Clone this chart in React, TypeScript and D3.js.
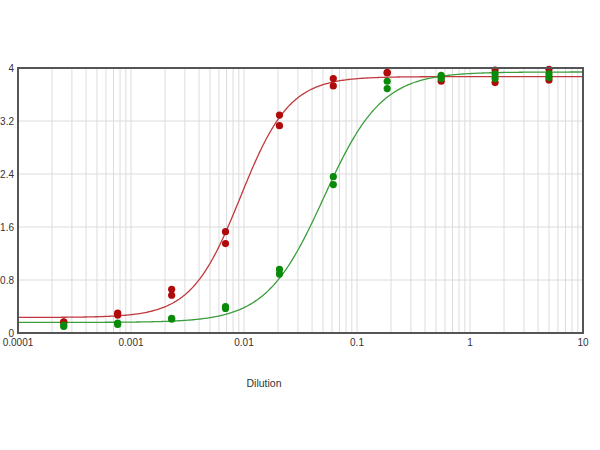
import React from "react";
import * as d3 from "d3";

const dilutions = [0.000254, 0.000762, 0.00229, 0.00686, 0.0206, 0.0617, 0.185, 0.556, 1.667, 5];
const redRep1 = [0.17, 0.30, 0.66, 1.53, 3.29, 3.84, 3.93, 3.87, 3.97, 3.98];
const redRep2 = [0.16, 0.27, 0.57, 1.35, 3.13, 3.73, 3.93, 3.80, 3.78, 3.82];
const greenRep1 = [0.12, 0.15, 0.22, 0.40, 0.96, 2.36, 3.80, 3.89, 3.91, 3.91];
const greenRep2 = [0.10, 0.13, 0.21, 0.37, 0.89, 2.24, 3.69, 3.84, 3.84, 3.86];
// 4PL fit parameters: [bottom, top, EC50, hill]
const redFit = [0.235, 3.87, 0.0093, 2.0];
const greenFit = [0.16, 3.94, 0.051, 1.7];
const yTicks = [0, 0.8, 1.6, 2.4, 3.2, 4];
const xTickLabels = ["0.0001", "0.001", "0.01", "0.1", "1", "10"];
const xLabel = "Dilution";

const W = 600, H = 450;
const L = 18, R = 583, T = 68, B = 333;

export default function App() {
  const x = d3.scaleLog().domain([0.0001, 10]).range([L, R]);
  const y = d3.scaleLinear().domain([0, 4]).range([B, T]);
  const minor: number[] = [];
  for (let e = -4; e < 1; e++) {
    for (let k = 1; k <= 9; k++) minor.push(k * Math.pow(10, e));
  }
  minor.push(10);
  const fitFn = (p: number[]) => (v: number) => p[0] + (p[1] - p[0]) / (1 + Math.pow(p[2] / v, p[3]));
  const xs = d3.range(0, 401).map((i) => Math.pow(10, -4 + (5 * i) / 400));
  const line = (p: number[]) => {
    const f = fitFn(p);
    return d3.line<number>().x((v) => x(v)).y((v) => y(f(v))).curve(d3.curveLinear)(xs) || "";
  };
  const font = "'Liberation Sans', Arial, sans-serif";
  const redPt = "#b00a0a";
  const greenPt = "#0a8a0a";
  return (
    <svg width={W} height={H} style={{ position: "absolute", left: 0, top: 0, background: "#fff" }} fontFamily={font}>
      <rect x={0} y={0} width={W} height={H} fill="#fff" />
      {minor.map((v, i) => (
        <line key={"v" + i} x1={x(v)} x2={x(v)} y1={T} y2={B} stroke="#dcdcdc" strokeWidth={1} />
      ))}
      {yTicks.map((v, i) => (
        <line key={"h" + i} x1={L} x2={R} y1={y(v)} y2={y(v)} stroke="#dcdcdc" strokeWidth={1} />
      ))}
      <path d={line(redFit)} fill="none" stroke="#c0393c" strokeWidth={1.3} />
      <path d={line(greenFit)} fill="none" stroke="#3c9e3c" strokeWidth={1.3} />
      {dilutions.map((d, i) => (
        <g key={"r" + i}>
          <circle cx={x(d)} cy={y(redRep1[i])} r={3.6} fill={redPt} />
          <circle cx={x(d)} cy={y(redRep2[i])} r={3.6} fill={redPt} />
        </g>
      ))}
      {dilutions.map((d, i) => (
        <g key={"g" + i}>
          <circle cx={x(d)} cy={y(greenRep1[i])} r={3.6} fill={greenPt} />
          <circle cx={x(d)} cy={y(greenRep2[i])} r={3.6} fill={greenPt} />
        </g>
      ))}
      <rect x={L} y={T} width={R - L} height={B - T} fill="none" stroke="#555" strokeWidth={2} />
      {yTicks.map((v, i) => (
        <text key={"yt" + i} x={14} y={y(v) + 4} textAnchor="end" fontSize={10} fill="#333">
          {String(v)}
        </text>
      ))}
      {xTickLabels.map((s, i) => (
        <text key={"xt" + i} x={x(Math.pow(10, -4 + i))} y={346} textAnchor="middle" fontSize={10} fill="#333">
          {s}
        </text>
      ))}
      <text x={264} y={387} textAnchor="middle" fontSize={10.5} fill="#333">
        {xLabel}
      </text>
    </svg>
  );
}
